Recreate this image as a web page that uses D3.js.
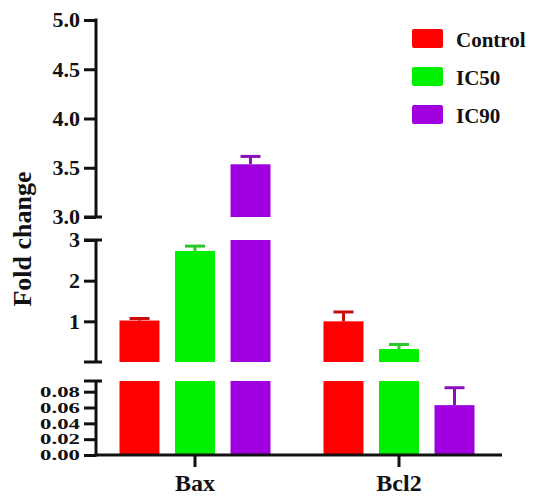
<!DOCTYPE html>
<html><head><meta charset="utf-8">
<script src="https://cdn.jsdelivr.net/npm/d3@7"></script>
<style>
body{margin:0;background:#fff}
svg{display:block}
text{font-family:"Liberation Serif","Times New Roman",serif;font-weight:bold;fill:#111}
</style></head><body>
<svg id="c" width="533" height="496"></svg>
<script>
// ---- data ----
const categories = ["Bax", "Bcl2"];
const seriesNames = ["Control", "IC50", "IC90"];
const controlValues = [1.02, 1.00];
const controlErrors = [0.05, 0.23];
const ic50Values = [2.73, 0.32];
const ic50Errors = [0.12, 0.11];
const ic90Values = [3.535, 0.063];
const ic90Errors = [0.08, 0.022];
const bottomTicks = [0, 0.02, 0.04, 0.06, 0.08];
const middleTicks = [1, 2, 3];
const topTicks = [3.0, 3.5, 4.0, 4.5, 5.0];
const yTitle = "Fold change";

const seriesValues = [controlValues, ic50Values, ic90Values];
const seriesErrors = [controlErrors, ic50Errors, ic90Errors];
const barColors = ["#ff0000", "#00f000", "#a000e0"];
const errColors = ["#c80c0c", "#28c828", "#8a10b8"];

const svg = d3.select("#c");
const axisX = 96;
const x = d3.scalePoint().domain(categories).range([93, 501]).padding(0.5);
const inner = d3.scaleBand().domain(seriesNames).range([-75.5, 75.5]).paddingInner(0.28).paddingOuter(0);

const segs = [
  {domain: [0, 0.0935], range: [455, 381], ticks: bottomTicks, fmt: d3.format(".2f"), capTop: true, capBottom: false, tScale: "scale(1.14,0.7)"},
  {domain: [0, 3], range: [362, 240], ticks: middleTicks, fmt: d3.format("d"), capTop: true, capBottom: true, tScale: "scale(1.1,1)"},
  {domain: [3, 5], range: [217, 20], ticks: topTicks, fmt: d3.format(".1f"), capTop: false, capBottom: true, tScale: "scale(1.1,1)"}
];

const gBars = svg.append("g");
const gErr = svg.append("g");
const gAxis = svg.append("g");

segs.forEach((seg, si) => {
  const y = d3.scaleLinear().domain(seg.domain).range(seg.range);
  const lowerMax = si === 0 ? -Infinity : segs[si - 1].domain[1];
  seriesNames.forEach((s, k) => {
    categories.forEach((c, i) => {
      const v = seriesValues[k][i], e = seriesErrors[k][i];
      if (v <= seg.domain[0] || v <= lowerMax) return;
      const cx = x(c) + inner(s) + inner.bandwidth() / 2;
      const topV = Math.min(v, seg.domain[1]);
      if (v < seg.domain[1]) {
        const ey = y(Math.min(v + e, seg.domain[1]));
        gErr.append("line").attr("x1", cx).attr("x2", cx).attr("y1", y(v)).attr("y2", ey)
          .attr("stroke", errColors[k]).attr("stroke-width", 3);
        gErr.append("line").attr("x1", cx - 10).attr("x2", cx + 10).attr("y1", ey).attr("y2", ey)
          .attr("stroke", errColors[k]).attr("stroke-width", 3);
      }
      gBars.append("rect")
        .attr("x", x(c) + inner(s)).attr("width", inner.bandwidth())
        .attr("y", y(topV)).attr("height", y(seg.domain[0]) - y(topV))
        .attr("fill", barColors[k]);
    });
  });
  const ax = gAxis.append("g").attr("transform", `translate(${axisX},0)`)
    .call(d3.axisLeft(y).tickValues(seg.ticks).tickFormat(seg.fmt).tickSize(12).tickPadding(4));
  ax.select(".domain").remove();
  ax.selectAll(".tick line").attr("stroke", "#111").attr("stroke-width", 3);
  ax.selectAll(".tick text").attr("font-size", 20).attr("fill", "#111")
    .attr("x", null).attr("dy", "0.34em").attr("transform", `translate(-16,0) ${seg.tScale}`);
  gAxis.append("line").attr("x1", axisX).attr("x2", axisX)
    .attr("y1", seg.range[0] + (si === 0 ? 1.5 : 0)).attr("y2", seg.range[1] - (si === 2 ? 1.5 : 0))
    .attr("stroke", "#111").attr("stroke-width", 3);
  if (seg.capTop) gAxis.append("line").attr("x1", axisX - 12).attr("x2", axisX + 6)
    .attr("y1", seg.range[1]).attr("y2", seg.range[1]).attr("stroke", "#111").attr("stroke-width", 3);
  if (seg.capBottom) gAxis.append("line").attr("x1", axisX - 12).attr("x2", axisX + 6)
    .attr("y1", seg.range[0]).attr("y2", seg.range[0]).attr("stroke", "#111").attr("stroke-width", 3);
});

// x axis
const baseY = 455;
gAxis.append("line").attr("x1", axisX - 1.5).attr("x2", 502).attr("y1", baseY).attr("y2", baseY)
  .attr("stroke", "#111").attr("stroke-width", 3);
categories.forEach(c => {
  gAxis.append("line").attr("x1", x(c)).attr("x2", x(c)).attr("y1", baseY).attr("y2", baseY + 12)
    .attr("stroke", "#111").attr("stroke-width", 3);
  gAxis.append("text").attr("x", x(c)).attr("y", 491).attr("text-anchor", "middle")
    .attr("font-size", 24).text(c);
});

// y title
svg.append("text").attr("transform", "translate(31,239) rotate(-90)")
  .attr("text-anchor", "middle").attr("font-size", 26).text(yTitle);

// legend
seriesNames.forEach((s, k) => {
  const ly = 29 + k * 38;
  svg.append("rect").attr("x", 412).attr("y", ly).attr("width", 31).attr("height", 19)
    .attr("rx", 2).attr("fill", barColors[k]);
  svg.append("text").attr("x", 456).attr("y", ly + 18).attr("font-size", 21).text(s);
});
</script></body></html>
